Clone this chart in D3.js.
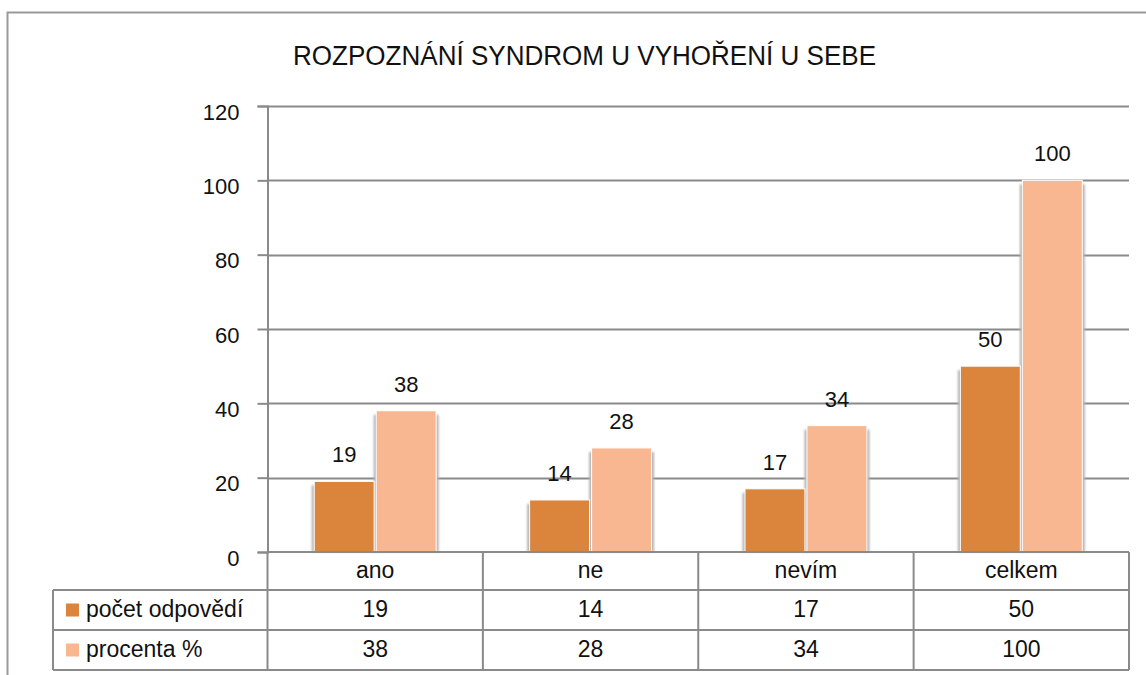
<!DOCTYPE html>
<html>
<head>
<meta charset="utf-8">
<script src="https://cdn.jsdelivr.net/npm/d3@7"></script>
<style>
  html, body { margin: 0; padding: 0; background: #fff; }
  svg { display: block; }
  text { font-family: "Liberation Sans", Arial, sans-serif; fill: #111; }
</style>
</head>
<body>
<script>
const title = "ROZPOZNÁNÍ SYNDROM U VYHOŘENÍ U SEBE";
const categories = ["ano", "ne", "nevím", "celkem"];
const seriesNames = ["počet odpovědí", "procenta %"];
const pocetOdpovedi = [19, 14, 17, 50];
const procenta = [38, 28, 34, 100];
const yTicks = [0, 20, 40, 60, 80, 100, 120];
const seriesColors = ["#DA843C", "#F8B791"];

const series = [pocetOdpovedi, procenta];

const W = 1146, H = 675;
const plotLeft = 267.5, plotRight = 1129, plotTop = 106, plotBottom = 552;
const rowH = [38, 40, 40];
const legendLeft = 53;

const svg = d3.select("body").append("svg").attr("width", W).attr("height", H);

const defs = svg.append("defs");
defs.append("filter").attr("id", "blur").attr("x", "-50%").attr("y", "-10%").attr("width", "200%").attr("height", "120%")
  .append("feGaussianBlur").attr("stdDeviation", 1.1);

// outer border
svg.append("rect").attr("x", 7.5).attr("y", 12.5).attr("width", 1300).attr("height", 800)
  .attr("fill", "none").attr("stroke", "#999").attr("stroke-width", 2);

// title
svg.append("text").attr("x", 584.5).attr("y", 65).attr("text-anchor", "middle")
  .attr("font-size", 27).attr("textLength", 583).attr("lengthAdjust", "spacingAndGlyphs")
  .text(title);

const y = d3.scaleLinear().domain([0, 120]).range([plotBottom, plotTop]);
const xCol = d3.scaleBand().domain(categories).range([plotLeft, plotRight]);
const x0 = d3.scaleBand().domain(categories).range([plotLeft, plotRight]).paddingInner(0.434).paddingOuter(0.217);
const x1 = d3.scaleBand().domain(d3.range(series.length)).range([0, x0.bandwidth()]).paddingInner(0.033);

// gridlines
svg.append("g").selectAll("line").data(yTicks.filter(t => t > 0)).join("line")
  .attr("x1", plotLeft).attr("x2", plotRight)
  .attr("y1", d => Math.round(y(d)) + 0.5).attr("y2", d => Math.round(y(d)) + 0.5)
  .attr("stroke", "#8a8a8a").attr("stroke-width", 2);

// y axis
const yAxis = svg.append("g").attr("transform", `translate(${plotLeft},0)`)
  .call(d3.axisLeft(y).tickValues(yTicks).tickSize(10).tickPadding(18));
yAxis.select(".domain").attr("stroke", "#8a8a8a").attr("stroke-width", 2);
yAxis.selectAll(".tick line").attr("stroke", "#8a8a8a").attr("stroke-width", 2);
yAxis.selectAll(".tick text").attr("font-size", 22).attr("dy", 13)
  .attr("font-family", "Liberation Sans, Arial, sans-serif").attr("fill", "#111");

// bars
const groups = svg.append("g").selectAll("g").data(categories).join("g")
  .attr("transform", d => `translate(${x0(d)},0)`);

series.forEach((vals, si) => {
  groups.append("rect")
    .attr("x", x1(si) - 2.5)
    .attr("y", (d, i) => y(vals[i]) + 4)
    .attr("width", x1.bandwidth() + 5)
    .attr("height", (d, i) => plotBottom - y(vals[i]) - 4)
    .attr("fill", "#b5b5b5").attr("filter", "url(#blur)");
});
series.forEach((vals, si) => {
  groups.append("rect")
    .attr("x", x1(si))
    .attr("y", (d, i) => y(vals[i]))
    .attr("width", x1.bandwidth())
    .attr("height", (d, i) => plotBottom - y(vals[i]))
    .attr("fill", seriesColors[si]).attr("stroke", "#fff").attr("stroke-width", 1);
  groups.append("text")
    .attr("x", x1(si) + x1.bandwidth() / 2)
    .attr("y", (d, i) => y(vals[i]) - 19)
    .attr("text-anchor", "middle").attr("font-size", 22)
    .text((d, i) => vals[i]);
});

// data table
const tbl = svg.append("g").attr("stroke", "#8a8a8a").attr("stroke-width", 2).attr("fill", "none");
const r1 = plotBottom, r2 = r1 + rowH[0], r3 = r2 + rowH[1], r4 = r3 + rowH[2];
tbl.append("line").attr("x1", plotLeft).attr("x2", plotRight).attr("y1", r1).attr("y2", r1);
[r2, r3, r4].forEach(ry => tbl.append("line").attr("x1", legendLeft).attr("x2", plotRight).attr("y1", ry).attr("y2", ry));
tbl.append("line").attr("x1", legendLeft).attr("x2", legendLeft).attr("y1", r2).attr("y2", r4);
const colEdges = categories.map(c => xCol(c)).concat([plotRight]);
colEdges.forEach(cx => tbl.append("line").attr("x1", cx).attr("x2", cx).attr("y1", r1).attr("y2", r4));

// category labels
svg.append("g").selectAll("text").data(categories).join("text")
  .attr("x", d => xCol(d) + xCol.bandwidth() / 2)
  .attr("y", (r1 + r2) / 2 + 7)
  .attr("text-anchor", "middle").attr("font-size", 23)
  .text(d => d);

// series rows
const rowCenters = [(r2 + r3) / 2, (r3 + r4) / 2];
series.forEach((vals, si) => {
  svg.append("rect").attr("x", 66).attr("y", rowCenters[si] - 6.5)
    .attr("width", 13).attr("height", 13).attr("fill", seriesColors[si]);
  svg.append("text").attr("x", 86).attr("y", rowCenters[si] + 7)
    .attr("font-size", 23).text(seriesNames[si]);
  svg.append("g").selectAll("text").data(categories).join("text")
    .attr("x", d => xCol(d) + xCol.bandwidth() / 2)
    .attr("y", rowCenters[si] + 7)
    .attr("text-anchor", "middle").attr("font-size", 23)
    .text((d, i) => vals[i]);
});
</script>
</body>
</html>
